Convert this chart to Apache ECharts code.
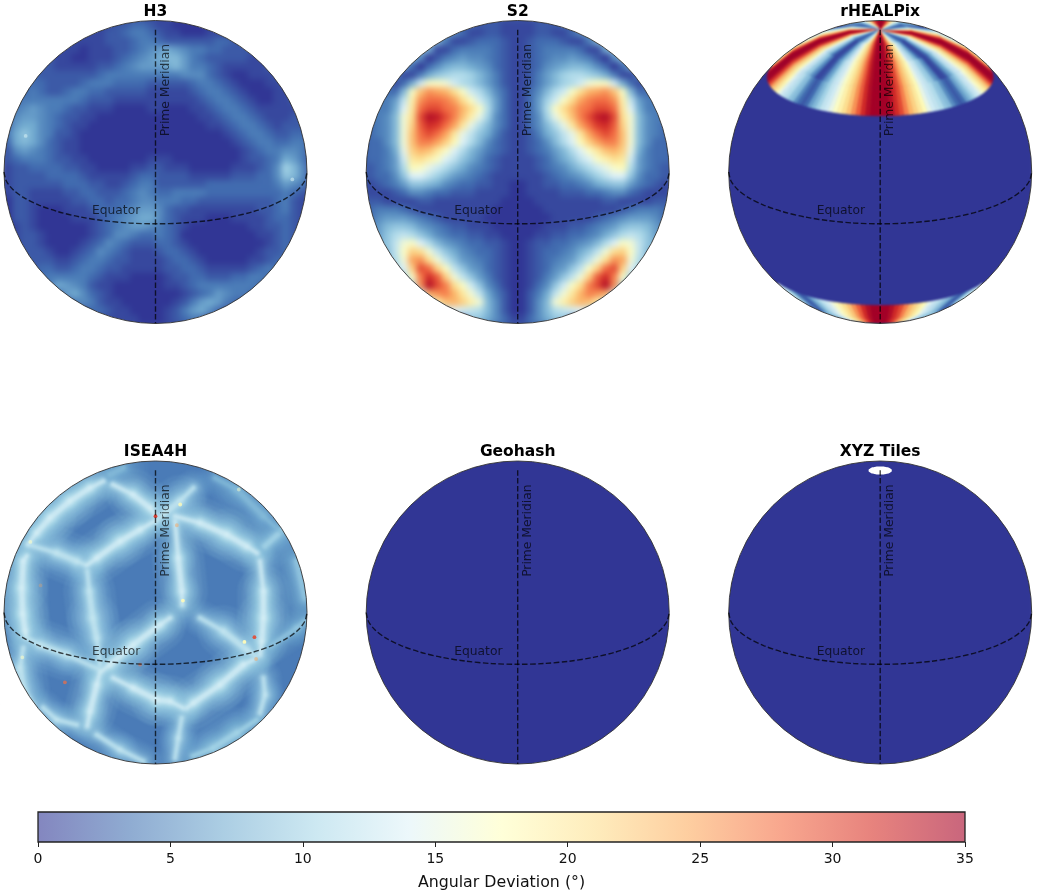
<!DOCTYPE html>
<html>
<head>
<meta charset="utf-8">
<title>Angular deviation</title>
<script src="https://cdn.jsdelivr.net/npm/echarts@6/dist/echarts.min.js"></script>
<style>
  html, body { margin: 0; padding: 0; background: #fff; }
  #cells, #caps, #chart { position: absolute; left: 0; top: 0; width: 1037px; height: 896px; }
  #cells { filter: blur(3.1px); }
  #caps { filter: blur(1.2px); }
</style>
</head>
<body>
<div id="cells"></div>
<div id="caps"></div>
<div id="chart"></div>
<script>
const gridNames = ['H3', 'S2', 'rHEALPix', 'ISEA4H', 'Geohash', 'XYZ Tiles'];
const flatValues = [1, 2, 0, 3.9, 0, 0];
const colorTicks = [0, 5, 10, 15, 20, 25, 30, 35];
// RdYlBu reversed
const ramp = ['#313695', '#4575b4', '#74add1', '#abd9e9', '#e0f3f8', '#ffffbf', '#fee090', '#fdae61', '#f46d43', '#d73027', '#a50026'];

// one character per cell, base 36 = degrees of deviation, rows top to bottom
const h3Rows = [
  '122332110000',
  '111223443211000111',
  '1111122234432222223322',
  '111011122345676544332222',
  '21100111234567886432222211',
  '2211111223456667864432111112',
  '322222223444444444555321001112',
  '33322223444333322222344321000112',
  '2343223443322222111112344321000112',
  '3444444432221111111111234432100112',
  '245654432211100001100011234432111112',
  '356654322110000000000001123443211122',
  '367754321100000000000000112344321222',
  '479754221000000000000000001234432233',
  '378753211000000000000000000123443344',
  '256543211000000000000000000012344554',
  '234443221100000001110000000012234764',
  '122333322110000112211100000111235a85',
  '122223333211111233222211111222335985',
  '122222233322112344222222333333334654',
  '122111122332223454334444333333333432',
  '022111112233233455444332222222223421',
  '022100011123334566532211111111223421',
  '022100001112345677532111000111123321',
  '012100000012345665432100000001122321',
  '012210000012355433432000000000112321',
  '012210000123543222332100000000012321',
  '1222100123543211123321000000012232',
  '22221123443221111233210000011233',
  '233223443221111122332111112343',
  '3444443211100001223322233443',
  '47654211000000112344444443',
  '367532100000000123465443',
  '2454211000000124676432',
  '233211000012467532',
  '111100012343'
];

const s2Rows = [
  '322211112223',
  '653112211112211356',
  '8841123332112333211488',
  '971134444321123444431179',
  '85024565543211234556542058',
  '7303578876532112356788753037',
  '511479abba8642112468abba974115',
  '5137dhhgdba8642112468abdghhd7315',
  '4338hnqpolhdb85311358bdhlopqnh8334',
  '446cjqssrplhda631136adhlprssqjc644',
  '4447eksuusrolhb631136bhlorsuuske7444',
  '4458gluyxurnjfa531135afjnruxyulg8544',
  '3458gmtwvspkfb85311358bfkpsvwtmg8543',
  '3458gnsuspkfc9742112479cfkpsusng8543',
  '3358gnrrpmieb8532112358beimprrng8533',
  '3347fmonkheb864321123468behknomf7433',
  '3346dkljhec97532111123579cehjlkd6433',
  '2346bihfdb9754321111234579bdfhib6432',
  '23359eeca865432111111234568acee95332',
  '123469987543322110011223345789964321',
  '111235543322211110011112223345532111',
  '221111221111111100001111111122111122',
  '344432111111111000000111111111234443',
  '356665432111110000000011111234566653',
  '468998654322111000000111223456899864',
  '569bcb975433221100001122334579bcb965',
  '79cgheb86543322100122334568behgc97',
  '88chmlgc975433210012334579cglmhc88',
  '8bgpqlgc9654321001234569cglqpgb8',
  'aemusmhc96532100123569chmsumea',
  'ahrwtmgc964210012469cgmtwrha',
  'bqyurlhd9531001359dhlruyqb',
  'coqrokgc74200247cgkorqoc',
  'cjnomjg85200258gjmonjc',
  'cedcb85200258bcdec',
  '997531135799'
];

// ISEA4H is mostly its bright cell-edge ridges: polylines in disk coordinates
const isea4hRidges = [
  [[-0.345, 0.866], [-0.432, 0.822], [-0.564, 0.736], [-0.696, 0.624], [-0.784, 0.525], [-0.84, 0.45]],
  [[-0.281, 0.844], [-0.149, 0.778], [-0.036, 0.69], [-0.003, 0.644]],
  [[-0.454, 0.312], [-0.388, 0.36], [-0.234, 0.47], [-0.102, 0.547], [-0.003, 0.604]],
  [[-0.83, 0.445], [-0.652, 0.393], [-0.52, 0.338], [-0.47, 0.318]],
  [[-0.85, 0.373], [-0.873, 0.338], [-0.883, 0.162], [-0.877, -0.01], [-0.861, -0.122], [-0.855, -0.155]],
  [[-0.45, 0.272], [-0.437, 0.14], [-0.415, -0.036], [-0.388, -0.168], [-0.366, -0.345]],
  [[0.129, 0.602], [0.15, 0.36], [0.173, 0.14], [0.177, 0.05]],
  [[0.25, 0.822], [0.162, 0.736], [0.063, 0.657], [0.01, 0.61]],
  [[0.129, 0.635], [0.294, 0.591], [0.47, 0.514], [0.602, 0.437], [0.67, 0.393]],
  [[0.723, 0.439], [0.833, 0.538]],
  [[0.69, 0.338], [0.712, 0.14], [0.712, -0.036], [0.701, -0.19], [0.69, -0.279]],
  [[0.712, -0.432], [0.723, -0.543], [0.69, -0.663]],
  [[0.294, -0.036], [0.448, -0.124], [0.602, -0.246], [0.663, -0.287]],
  [[0.096, -0.036], [0.03, -0.081], [-0.147, -0.213], [-0.3, -0.345], [-0.353, -0.386]],
  [[-0.855, -0.164], [-0.762, -0.213], [-0.586, -0.279], [-0.366, -0.378]],
  [[-0.873, -0.234], [-0.894, -0.366], [-0.873, -0.498], [-0.809, -0.609]],
  [[-0.366, -0.393], [-0.388, -0.477], [-0.432, -0.652], [-0.45, -0.749]],
  [[-0.52, -0.741], [-0.652, -0.708], [-0.741, -0.63]],
  [[-0.388, -0.807], [-0.234, -0.906], [-0.081, -0.982]],
  [[-0.279, -0.432], [-0.147, -0.498], [0.008, -0.576], [0.096, -0.586], [0.182, -0.63]],
  [[0.644, -0.314], [0.58, -0.345], [0.426, -0.477], [0.25, -0.597], [0.208, -0.63]],
  [[0.173, -0.696], [0.15, -0.828], [0.129, -0.96]],
  [[0.668, -0.708], [0.536, -0.795], [0.382, -0.894], [0.248, -0.947]],
  [[0.756, -0.223], [0.932, -0.102], [0.987, -0.056]],
  [[-0.3, 0.91], [-0.215, 0.954]],
  [[0.393, 0.888], [0.536, 0.811], [0.712, 0.637], [0.833, 0.525]],
  [[0.932, 0.338], [0.987, 0.096]]
];
const ridgeValues = [13, 13, 13, 12, 13, 12, 13, 12, 13, 10, 13, 12, 12, 13, 12, 12, 13, 12, 12, 13, 13, 12, 10, 9, 8, 8, 9];

// rHEALPix caps repeat every 90 degrees, so each lat band is read as one quadrant of 2.5 degree bins
const healpixLonStep = 2.5;
const healpixNorthLats = [41.8, 54, 66, 78, 90];
const healpixSouthLats = [-41.8, -54, -66];
const healpixNorth = [
  'zzywuromkifdcb98532368acdfhjlnqtwyzz',
  'zzywuromkifdca96411257acdfhjlnqtwyzz',
  'zzywuromkiecb9742112479bdfhjlnqtwyzz',
  'zzywtqnkhebb975332233579bbehknqtwyzz'
];
const healpixSouth = [
  'zzywuromkifdcb98532368acdfhjlnqtwyzz',
  'zzywuromkifdcb98532368acdfhjlnqtwyzz'
];

// isolated hot cells: disk x, disk y, deviation, strength
const h3Spots = [[-0.857, 0.238, 13, 0.6], [0.903, -0.049, 13, 0.6]];
const isea4hSpots = [
  [0, 0.636, 31, 0.95], [0.653, -0.163, 30, 0.9], [0.587, -0.194, 18, 0.95], [0.181, 0.079, 18, 0.9],
  [0.163, 0.713, 18, 0.8], [-0.598, -0.461, 28, 0.7], [0.664, -0.307, 25, 0.5], [0.141, 0.576, 25, 0.5],
  [-0.759, 0.179, 25, 0.3], [-0.879, -0.296, 17, 0.6], [-0.826, 0.466, 17, 0.6], [-0.102, -0.344, 28, 0.5],
  [0.55, 0.812, 17, 0.5]
];

// guides, in degrees
const equatorLons = [-90, -80, -70, -60, -50, -40, -30, -20, -10, 0, 10, 20, 30, 40, 50, 60, 70, 80, 90];
const meridianLats = [90, 70, 50, 30, 10, -10, -30, -50, -70];
const holeLat = 85.6;
const holeLons = [0, 30, 60, 90, 120, 150, 180, 210, 240, 270, 300, 330];
const viewLat = 20;

const centersX = [155.5, 517.7, 880.2];
const centersY = [172, 612.5];
const radius = 151.5;
const rad = Math.PI / 180;

function project(lon, lat) {
  const a = lon * rad, b = lat * rad, c = viewLat * rad;
  return [
    Math.cos(b) * Math.sin(a),
    Math.cos(c) * Math.sin(b) - Math.sin(c) * Math.cos(b) * Math.cos(a)
  ];
}
function visible(lon, lat) {
  const a = lon * rad, b = lat * rad, c = viewLat * rad;
  return Math.sin(b) * Math.sin(c) + Math.cos(b) * Math.cos(c) * Math.cos(a) >= 0;
}
// cap cell corners that fall behind the limb are pushed out past it, the mask trims them
function projectCap(lon, lat) {
  const p = project(lon, lat);
  if (visible(lon, lat)) return p;
  const d = Math.sqrt(p[0] * p[0] + p[1] * p[1]) || 1;
  return [p[0] / d * 1.12, p[1] / d * 1.12];
}
function colorFor(v) {
  return echarts.color.lerp(Math.min(v / 35, 1), ramp);
}
function gridCells(rows) {
  const out = [], n = rows.length, s = 2 / n;
  rows.forEach(function (row, r) {
    const off = Math.floor((n - row.length) / 2);
    for (let i = 0; i < row.length; i++) {
      const x0 = -1 + s * (i + off), y1 = 1 - s * r;
      if (Math.hypot(x0 + s / 2, y1 - s / 2) > 1.1) continue;
      out.push([x0, y1 - s, x0 + s, y1, parseInt(row[i], 36)]);
    }
  });
  return out;
}
function capCells(rows, lats) {
  const out = [], bins = 360 / healpixLonStep;
  rows.forEach(function (row, r) {
    for (let i = 0; i < bins; i++) {
      const lon = -180 + i * healpixLonStep;
      if (!visible(lon + healpixLonStep / 2, (lats[r] + lats[r + 1]) / 2)) continue;
      out.push([lon, lats[r], lon + healpixLonStep, lats[r + 1], parseInt(row[i % row.length], 36)]);
    }
  });
  return out;
}
function rectCell(params, api) {
  const a = api.coord([api.value(0), api.value(3)]);
  const b = api.coord([api.value(2), api.value(1)]);
  const fill = colorFor(api.value(4));
  return {
    type: 'rect',
    shape: { x: a[0], y: a[1], width: b[0] - a[0], height: b[1] - a[1] },
    style: { fill: fill, stroke: fill, lineWidth: 0.6 }
  };
}
function capCell(params, api) {
  const lon0 = api.value(0), lat0 = api.value(1), lon1 = api.value(2), lat1 = api.value(3);
  const fill = colorFor(api.value(4));
  return {
    type: 'polygon',
    shape: { points: [[lon0, lat0], [lon1, lat0], [lon1, lat1], [lon0, lat1]].map(function (p) { return api.coord(projectCap(p[0], p[1])); }) },
    style: { fill: fill, stroke: fill, lineWidth: 0.6 }
  };
}
function diskItem(params, api) {
  const c = api.coord([0, 0]), r = api.size([1, 1])[0];
  return { type: 'circle', shape: { cx: c[0], cy: c[1], r: r + 10 }, style: { fill: colorFor(api.value(0)) } };
}
// glow passes for the ridges: share of the ridge value, width, opacity. Widest first over all ridges
const ridgePasses = [
  [0.5, 52, 0.13], [0.52, 42, 0.16], [0.56, 33, 0.2], [0.62, 25, 0.24],
  [0.7, 18, 0.3], [0.78, 13, 0.38], [0.88, 9, 0.5], [1, 5, 0.75]
];
function ridgePassItem(pass) {
  return function (params, api) {
    const i = api.value(0), pts = isea4hRidges[i], v = ridgeValues[i], children = [];
    for (let s = 0; s + 1 < pts.length; s++) {
      const end = pts.length > 2 && (s === 0 || s === pts.length - 2);
      const a = api.coord(pts[s]), b = api.coord(pts[s + 1]);
      children.push({
        type: 'line',
        shape: { x1: a[0], y1: a[1], x2: b[0], y2: b[1] },
        style: { stroke: colorFor(v * pass[0] + (1 - pass[0]) * flatValues[3]), lineWidth: pass[1] * (end ? 0.7 : 1), opacity: pass[2] * (end ? 0.85 : 1), lineCap: 'round' }
      });
    }
    return { type: 'group', children: children };
  };
}

const grids = [], xAxes = [], yAxes = [], titles = [];
gridNames.forEach(function (name, i) {
  const cx = centersX[i % 3], cy = centersY[i < 3 ? 0 : 1];
  grids.push({ left: cx - radius, top: cy - radius, width: radius * 2, height: radius * 2 });
  xAxes.push({ type: 'value', gridIndex: i, min: -1, max: 1, show: false });
  yAxes.push({ type: 'value', gridIndex: i, min: -1, max: 1, show: false });
  titles.push({
    text: name, left: cx, top: cy - radius - 17, textAlign: 'center',
    textStyle: { fontFamily: 'DejaVu Sans', fontSize: 15.5, fontWeight: 'bold', color: '#000' }, padding: 0
  });
});
function axesFor(list) {
  return list.map(function (a) { return Object.assign({}, a); });
}

// blurred layer: the smooth deviation cells
const cellSeries = [];
gridNames.forEach(function (name, i) {
  cellSeries.push({
    type: 'custom', xAxisIndex: i, yAxisIndex: i, clip: false, silent: true,
    renderItem: diskItem, data: [[flatValues[i]]], encode: { x: 0, y: 0 }
  });
});
[[0, h3Rows], [1, s2Rows]].forEach(function (g) {
  cellSeries.push({
    type: 'custom', xAxisIndex: g[0], yAxisIndex: g[0], clip: false, silent: true,
    renderItem: rectCell, data: gridCells(g[1]), encode: { x: 0, y: 1 }
  });
});
echarts.init(document.getElementById('cells')).setOption({
  animation: false, grid: axesFor(grids), xAxis: axesFor(xAxes), yAxis: axesFor(yAxes), series: cellSeries
});

// lightly softened layer: rHEALPix caps and ISEA4H ridges
const capSeries = [{
  type: 'custom', xAxisIndex: 2, yAxisIndex: 2, clip: false, silent: true,
  renderItem: capCell, data: capCells(healpixNorth, healpixNorthLats).concat(capCells(healpixSouth, healpixSouthLats))
}];
ridgePasses.forEach(function (pass) {
  capSeries.push({
    type: 'custom', xAxisIndex: 3, yAxisIndex: 3, clip: false, silent: true,
    renderItem: ridgePassItem(pass), data: isea4hRidges.map(function (r, i) { return [i]; }), encode: { x: 0, y: 0 }
  });
});
echarts.init(document.getElementById('caps')).setOption({
  animation: false, grid: axesFor(grids), xAxis: axesFor(xAxes), yAxis: axesFor(yAxes), series: capSeries
});

// sharp layer: limb mask, guides, labels, colour bar
const topSeries = [];
const guideText = 'rgba(0,0,0,0.68)';
gridNames.forEach(function (name, i) {
  topSeries.push({
    type: 'custom', xAxisIndex: i, yAxisIndex: i, clip: false, silent: true, z: 2,
    data: [[0]], encode: { x: 0, y: 0 },
    renderItem: function (params, api) {
      const c = api.coord([0, 0]), r = api.size([1, 1])[0];
      return {
        type: 'group',
        children: [
          { type: 'circle', shape: { cx: c[0], cy: c[1], r: r + 14 }, style: { fill: 'none', stroke: '#fff', lineWidth: 28 } },
          { type: 'circle', shape: { cx: c[0], cy: c[1], r: r }, style: { fill: 'none', stroke: '#333', lineWidth: 0.9 } }
        ]
      };
    }
  });
  const lineStyle = { color: 'rgba(0,0,0,0.72)', width: 1.4, type: [5.5, 2.4] };
  topSeries.push({
    type: 'line', xAxisIndex: i, yAxisIndex: i, showSymbol: false, silent: true, smooth: 0.3, z: 4, lineStyle: lineStyle,
    data: equatorLons.map(function (lon) { return project(lon, 0); })
  });
  topSeries.push({
    type: 'line', xAxisIndex: i, yAxisIndex: i, showSymbol: false, silent: true, z: 4, lineStyle: lineStyle,
    data: meridianLats.map(function (lat) { return project(0, lat); })
  });
  topSeries.push({
    type: 'custom', xAxisIndex: i, yAxisIndex: i, clip: false, silent: true, z: 5,
    data: [[-0.26, -0.257, 0], [0.066, 0.54, 90]], encode: { x: 0, y: 1 },
    renderItem: function (params, api) {
      const p = api.coord([api.value(0), api.value(1)]);
      return {
        type: 'text', x: p[0], y: p[1], rotation: api.value(2) * rad,
        style: {
          text: params.dataIndex === 0 ? 'Equator' : 'Prime Meridian',
          fontFamily: 'DejaVu Sans', fontSize: 12.3, fill: guideText, align: 'center', verticalAlign: 'middle'
        }
      };
    }
  });
});
[[0, h3Spots], [3, isea4hSpots]].forEach(function (g) {
  topSeries.push({
    type: 'custom', xAxisIndex: g[0], yAxisIndex: g[0], silent: true, z: 3,
    data: g[1], encode: { x: 0, y: 1 },
    renderItem: function (params, api) {
      const p = api.coord([api.value(0), api.value(1)]);
      return { type: 'circle', shape: { cx: p[0], cy: p[1], r: 1.9 }, style: { fill: colorFor(api.value(2)), opacity: api.value(3) } };
    }
  });
});
// tile pyramid stops short of the pole on XYZ Tiles
topSeries.push({
  type: 'custom', xAxisIndex: 5, yAxisIndex: 5, clip: false, silent: true, z: 3,
  data: holeLons.map(function (lon) { return project(lon, holeLat); }), encode: { x: 0, y: 1 },
  renderItem: function (params, api) {
    if (params.dataIndex !== 0) return null;
    const pts = holeLons.map(function (lon) { return api.coord(project(lon, holeLat)); });
    return { type: 'polygon', shape: { points: pts, smooth: 0.6 }, style: { fill: '#fff' } };
  }
});
// colour bar
const barIndex = gridNames.length;
topSeries.push({
  type: 'custom', xAxisIndex: barIndex, yAxisIndex: barIndex, clip: false, silent: true, z: 3,
  data: [[0, 0, 35, 1]], encode: { x: 0, y: 1 },
  renderItem: function (params, api) {
    const a = api.coord([api.value(0), api.value(3)]);
    const b = api.coord([api.value(2), api.value(1)]);
    const shape = { x: a[0], y: a[1], width: b[0] - a[0], height: b[1] - a[1] };
    return {
      type: 'group',
      children: [
        {
          type: 'rect', shape: shape,
          style: {
            opacity: 0.6,
            fill: new echarts.graphic.LinearGradient(0, 0, 1, 0, ramp.map(function (c, i) {
              return { offset: i / (ramp.length - 1), color: c };
            }))
          }
        },
        { type: 'rect', shape: shape, style: { fill: 'none', stroke: '#222', lineWidth: 1.3 } }
      ]
    };
  }
});

echarts.init(document.getElementById('chart')).setOption({
  animation: false,
  title: titles,
  grid: grids.concat([{ left: 38, top: 812, width: 927, height: 30 }]),
  xAxis: xAxes.concat([{
    type: 'value', gridIndex: barIndex, min: colorTicks[0], max: colorTicks[colorTicks.length - 1], interval: 5,
    splitLine: { show: false },
    axisLine: { show: false },
    axisTick: { show: true, length: 5, lineStyle: { color: '#222', width: 1 } },
    axisLabel: { fontFamily: 'DejaVu Sans', fontSize: 14, color: '#111', margin: 10 },
    name: 'Angular Deviation (°)', nameLocation: 'middle', nameGap: 33,
    nameTextStyle: { fontFamily: 'DejaVu Sans', fontSize: 15.8, color: '#111' }
  }]),
  yAxis: yAxes.concat([{ type: 'value', gridIndex: barIndex, min: 0, max: 1, show: false }]),
  series: topSeries
});
</script>
</body>
</html>
